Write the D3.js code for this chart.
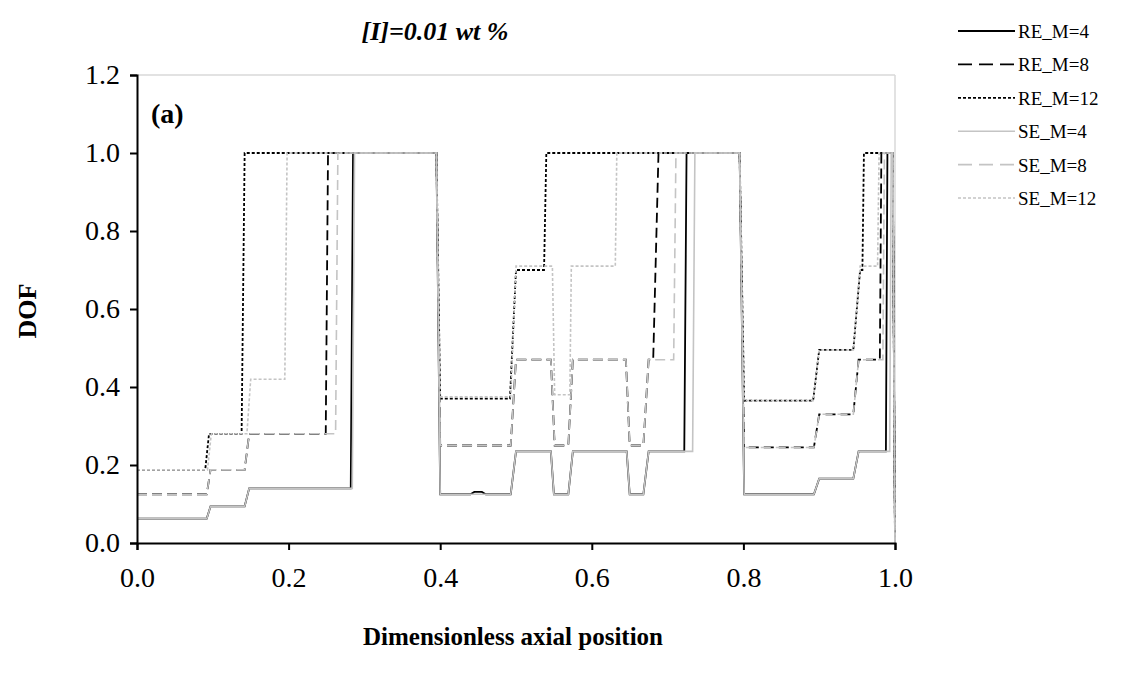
<!DOCTYPE html>
<html lang="en">
<head>
<meta charset="utf-8">
<title>DOF</title>
<script src="https://d3js.org/d3.v7.min.js"></script>
<style>
  body { margin: 0; background: #fff; }
  text { font-family: "Liberation Serif", "Times New Roman", serif; }
</style>
</head>
<body>
<script>
// data: [axial position, DOF]
var RE_M4 = [[0,0.0625],[0.092,0.0625],[0.097,0.094],[0.142,0.094],[0.148,0.14],[0.282,0.14],[0.285,1.0],[0.395,1.0],[0.400,0.125],[0.440,0.125],[0.445,0.131],[0.455,0.131],[0.460,0.125],[0.493,0.125],[0.500,0.235],[0.546,0.235],[0.550,0.125],[0.569,0.125],[0.575,0.235],[0.646,0.235],[0.650,0.125],[0.668,0.125],[0.675,0.235],[0.722,0.235],[0.725,1.0],[0.795,1.0],[0.801,0.125],[0.893,0.125],[0.900,0.165],[0.945,0.165],[0.952,0.235],[0.988,0.235],[0.990,1.0],[0.997,1.0],[1.0,0]];
var RE_M8 = [[0,0.125],[0.092,0.125],[0.097,0.1875],[0.142,0.1875],[0.148,0.28],[0.249,0.28],[0.252,1.0],[0.395,1.0],[0.400,0.25],[0.493,0.25],[0.500,0.47],[0.546,0.47],[0.551,0.25],[0.569,0.25],[0.575,0.47],[0.645,0.47],[0.650,0.25],[0.668,0.25],[0.675,0.47],[0.681,0.47],[0.688,1.0],[0.795,1.0],[0.801,0.245],[0.893,0.245],[0.900,0.33],[0.945,0.33],[0.952,0.47],[0.980,0.47],[0.982,1.0],[0.997,1.0],[1.0,0]];
var RE_M12 = [[0,0.1875],[0.090,0.1875],[0.095,0.28],[0.138,0.28],[0.142,1.0],[0.395,1.0],[0.400,0.37],[0.492,0.37],[0.500,0.70],[0.537,0.70],[0.540,1.0],[0.795,1.0],[0.801,0.365],[0.892,0.365],[0.900,0.495],[0.945,0.495],[0.954,0.70],[0.957,0.70],[0.959,1.0],[0.997,1.0],[1.0,0]];
var SE_M4 = [[0,0.0625],[0.092,0.0625],[0.097,0.094],[0.142,0.094],[0.148,0.14],[0.284,0.14],[0.287,1.0],[0.395,1.0],[0.400,0.125],[0.493,0.125],[0.500,0.235],[0.546,0.235],[0.550,0.125],[0.569,0.125],[0.575,0.235],[0.646,0.235],[0.650,0.125],[0.668,0.125],[0.675,0.235],[0.733,0.235],[0.736,1.0],[0.795,1.0],[0.801,0.125],[0.893,0.125],[0.900,0.165],[0.945,0.165],[0.952,0.235],[0.993,0.235],[0.995,1.0],[0.997,1.0],[1.0,0]];
var SE_M8 = [[0,0.125],[0.092,0.125],[0.097,0.1875],[0.142,0.1875],[0.148,0.28],[0.262,0.28],[0.265,1.0],[0.395,1.0],[0.400,0.25],[0.493,0.25],[0.500,0.47],[0.546,0.47],[0.551,0.25],[0.569,0.25],[0.575,0.47],[0.645,0.47],[0.650,0.25],[0.668,0.25],[0.675,0.47],[0.708,0.47],[0.711,1.0],[0.795,1.0],[0.801,0.245],[0.893,0.245],[0.900,0.33],[0.945,0.33],[0.952,0.47],[0.984,0.47],[0.986,1.0],[0.997,1.0],[1.0,0]];
var SE_M12 = [[0,0.1875],[0.093,0.1875],[0.098,0.28],[0.145,0.28],[0.150,0.42],[0.195,0.42],[0.198,1.0],[0.395,1.0],[0.400,0.375],[0.493,0.375],[0.500,0.71],[0.548,0.71],[0.551,0.38],[0.571,0.38],[0.573,0.71],[0.631,0.71],[0.633,1.0],[0.795,1.0],[0.801,0.365],[0.892,0.365],[0.900,0.495],[0.945,0.495],[0.954,0.71],[0.977,0.71],[0.979,1.0],[0.997,1.0],[1.0,0]];

var names = ["RE_M=4","RE_M=8","RE_M=12","SE_M=4","SE_M=8","SE_M=12"];
var xTicks = [0, 0.2, 0.4, 0.6, 0.8, 1.0];
var yTicks = [0, 0.2, 0.4, 0.6, 0.8, 1.0, 1.2];

var series = [RE_M4, RE_M8, RE_M12, SE_M4, SE_M8, SE_M12];
var colors = ["#000","#000","#000","#c4c4c4","#c4c4c4","#c4c4c4"];
var dashes = [null, "10,5", "3,2", null, "10,5", "3,2"];
var widths = [1.8, 1.8, 1.8, 1.6, 1.6, 1.6];

var W = 1134, H = 683;
var pLeft = 137, pRight = 895, pTop = 75, pBottom = 543;

var svg = d3.select("body").append("svg")
  .attr("width", W)
  .attr("height", H);

var x = d3.scaleLinear().domain([0, 1]).range([pLeft, pRight]);
var y = d3.scaleLinear().domain([0, 1.2]).range([pBottom, pTop]);

// plot frame (light top/right)
svg.append("line").attr("x1", pLeft).attr("x2", pRight).attr("y1", pTop).attr("y2", pTop)
  .attr("stroke", "#d9d9d9").attr("stroke-width", 1.5);
svg.append("line").attr("x1", pRight).attr("x2", pRight).attr("y1", pTop).attr("y2", pBottom)
  .attr("stroke", "#d9d9d9").attr("stroke-width", 1.5);

var line = d3.line().x(d => x(d[0])).y(d => y(d[1]));

svg.append("g").selectAll("path")
  .data(series)
  .enter().append("path")
  .attr("d", d => line(d))
  .attr("fill", "none")
  .attr("stroke", (d, i) => colors[i])
  .attr("stroke-width", (d, i) => widths[i])
  .attr("stroke-dasharray", (d, i) => dashes[i])
  .attr("stroke-linejoin", "miter");

// axes
var xAxis = svg.append("g")
  .attr("transform", "translate(0," + pBottom + ")")
  .call(d3.axisBottom(x).tickValues(xTicks).tickFormat(d3.format(".1f")).tickSize(7).tickPadding(17));
var yAxis = svg.append("g")
  .attr("transform", "translate(" + pLeft + ",0)")
  .call(d3.axisLeft(y).tickValues(yTicks).tickFormat(d3.format(".1f")).tickSize(7).tickPadding(10));

[xAxis, yAxis].forEach(function(a) {
  a.select(".domain").attr("stroke", "#000").attr("stroke-width", 2);
  a.selectAll(".tick line").attr("stroke", "#000").attr("stroke-width", 2);
  a.selectAll(".tick text")
    .attr("font-family", "Liberation Serif")
    .attr("font-size", "28px")
    .attr("fill", "#000");
});

// titles
svg.append("text")
  .attr("x", 435).attr("y", 40)
  .attr("text-anchor", "middle")
  .attr("font-size", "26px")
  .attr("font-weight", "bold")
  .attr("font-style", "italic")
  .text("[I]=0.01 wt %");

svg.append("text")
  .attr("x", 151).attr("y", 123)
  .attr("font-size", "28px")
  .attr("font-weight", "bold")
  .text("(a)");

svg.append("text")
  .attr("x", 513).attr("y", 645)
  .attr("text-anchor", "middle")
  .attr("font-size", "25px")
  .attr("font-weight", "bold")
  .text("Dimensionless axial position");

svg.append("text")
  .attr("transform", "translate(36," + ((pTop + pBottom) / 2 + 2) + ") rotate(-90)")
  .attr("text-anchor", "middle")
  .attr("font-size", "26px")
  .attr("font-weight", "bold")
  .text("DOF");

// legend
var leg = svg.append("g").selectAll("g")
  .data(names)
  .enter().append("g")
  .attr("transform", (d, i) => "translate(958," + (31 + i * 33.4) + ")");

leg.append("line")
  .attr("x1", 0).attr("x2", 57).attr("y1", 0).attr("y2", 0)
  .attr("stroke", (d, i) => colors[i])
  .attr("stroke-width", (d, i) => widths[i])
  .attr("stroke-dasharray", (d, i) => dashes[i] == "10,5" ? "14,7" : dashes[i]);

leg.append("text")
  .attr("x", 60).attr("y", 7)
  .attr("font-size", "19px")
  .text(d => d);
</script>
</body>
</html>
